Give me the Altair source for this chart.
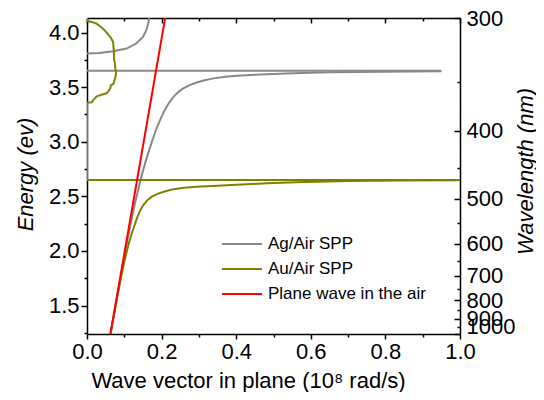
import altair as alt
import pandas as pd

# ---------------- data ----------------
# Ag/Air SPP, lower branch
ag_lo_k = [0.0630, 0.0735, 0.0825, 0.0920, 0.1010, 0.1090, 0.1160, 0.1230, 0.1300, 0.1370,
           0.1430, 0.1500, 0.1570, 0.1650, 0.1730, 0.1820, 0.1910, 0.2000, 0.2090, 0.2180,
           0.2270, 0.2360, 0.2470, 0.2580, 0.2750, 0.2940, 0.3150, 0.3390, 0.3700, 0.4010,
           0.4400, 0.4820, 0.5500, 0.6500, 0.8000, 0.9500]
ag_lo_e = [1.240, 1.445, 1.619, 1.800, 1.967, 2.111, 2.232, 2.348, 2.457, 2.559,
           2.642, 2.733, 2.818, 2.905, 2.990, 3.080, 3.160, 3.230, 3.293, 3.346,
           3.390, 3.426, 3.461, 3.488, 3.518, 3.542, 3.563, 3.580, 3.595, 3.604,
           3.612, 3.618, 3.627, 3.635, 3.641, 3.645]
# Ag/Air SPP, upper branch
ag_up_k = [0.000, 0.034, 0.070, 0.106, 0.132, 0.150, 0.159, 0.164, 0.1665]
ag_up_e = [3.807, 3.812, 3.828, 3.853, 3.899, 3.960, 4.021, 4.083, 4.133]
# Ag/Air SPP, flat line
ag_fl_k = [0.000, 0.950]
ag_fl_e = [3.650, 3.650]

# Au/Air SPP, lower branch
au_lo_k = [0.0630, 0.0735, 0.0830, 0.0920, 0.1000, 0.1070, 0.1130, 0.1200, 0.1250, 0.1290,
           0.1350, 0.1420, 0.1500, 0.1600, 0.1730, 0.1870, 0.2080, 0.2320, 0.2600, 0.2940,
           0.3500, 0.4010, 0.4820, 0.5600, 0.7000, 0.8500, 1.0000]
au_lo_e = [1.240, 1.440, 1.610, 1.770, 1.900, 2.000, 2.080, 2.160, 2.210, 2.250,
           2.310, 2.367, 2.415, 2.459, 2.495, 2.520, 2.545, 2.566, 2.578, 2.587,
           2.598, 2.606, 2.619, 2.630, 2.640, 2.645, 2.648]
# Au/Air SPP, flat line
au_fl_k = [0.000, 1.000]
au_fl_e = [2.650, 2.650]
# Au/Air SPP, branch near k = 0
au_up_k = [0.000, 0.000, 0.013, 0.017, 0.026, 0.039, 0.053, 0.062, 0.064, 0.071, 0.075, 0.078,
           0.076, 0.075, 0.073, 0.072, 0.070, 0.065, 0.056, 0.047, 0.039, 0.025, 0.012, 0.000, 0.000]
au_up_e = [2.650, 3.357, 3.362, 3.384, 3.415, 3.430, 3.445, 3.485, 3.516, 3.531, 3.577, 3.623,
           3.669, 3.715, 3.745, 3.822, 3.914, 3.945, 3.985, 4.021, 4.046, 4.083, 4.097, 4.107, 4.133]

# Plane wave in the air
pw_k = [0.0628, 0.2095]
pw_e = [1.240, 4.133]

series_names = ["Ag/Air SPP", "Au/Air SPP", "Plane wave in the air"]
series_colors = ["#888888", "#808000", "#ff0000"]

x_major = [0.0, 0.2, 0.4, 0.6, 0.8, 1.0]
x_minor = [0.1, 0.3, 0.5, 0.7, 0.9]
y_major = [1.5, 2.0, 2.5, 3.0, 3.5, 4.0]
y_minor = [1.25, 1.75, 2.25, 2.75, 3.25, 3.75]
wl_major = [300, 400, 500, 600, 700, 800, 900, 1000]
wl_minor = [350, 450, 550, 650, 750, 850, 950]
HC = 1239.84  # eV*nm, energy <-> wavelength

# ---------------- table ----------------
rows = []
def add(series, seg, ks, es):
    for i, (k, e) in enumerate(zip(ks, es)):
        rows.append({"k": k, "E": e, "series": series, "seg": seg, "ord": i})

add(series_names[0], "ag_lo", ag_lo_k, ag_lo_e)
add(series_names[0], "ag_up", ag_up_k, ag_up_e)
add(series_names[0], "ag_fl", ag_fl_k, ag_fl_e)
add(series_names[1], "au_lo", au_lo_k, au_lo_e)
add(series_names[1], "au_fl", au_fl_k, au_fl_e)
add(series_names[1], "au_up", au_up_k, au_up_e)
add(series_names[2], "pw", pw_k, pw_e)
df = pd.DataFrame(rows)
dummy = pd.DataFrame({"k": [0.5], "E": [2.5]})

W, H = 373, 316
X_DOM = [0.0, 1.0]
Y_DOM = [HC / 1000, HC / 300]
FONT = "Liberation Sans"

def xs():
    return alt.Scale(domain=X_DOM, nice=False, zero=False)

def ys():
    return alt.Scale(domain=Y_DOM, nice=False, zero=False)

common = dict(domainColor="black", tickColor="black", labelColor="black", titleColor="black",
              labelFont=FONT, titleFont=FONT, grid=False, domainWidth=1.5, tickWidth=1.5)

lines = alt.Chart(df).mark_line(strokeWidth=2, clip=True).encode(
    x=alt.X("k:Q", scale=xs(), axis=alt.Axis(
        values=x_major, format=".1f", tickSize=5, labelFontSize=22, labelPadding=2,
        labelFlush=False, labelOverlap=False,
        title="Wave vector in plane (10⁸ rad/s)", titleFontSize=22, titleFontWeight="normal",
        titleX=161, titleY=53, titleBaseline="alphabetic", **common)),
    y=alt.Y("E:Q", scale=ys(), axis=alt.Axis(
        values=y_major, format=".1f", tickSize=6, labelFontSize=22, labelPadding=2,
        labelFlush=False, labelOverlap=False,
        title="Energy (ev)", titleFontSize=22, titleFontWeight="normal", titleFontStyle="italic",
        titleX=-62, titleY=156, titleBaseline="middle", titleAngle=270, **common)),
    color=alt.Color("series:N", scale=alt.Scale(domain=series_names, range=series_colors),
                    legend=alt.Legend(orient="none", legendX=146.5, legendY=217.5, title=None,
                                      symbolType="M-3,0H3", symbolSize=178, symbolStrokeWidth=2,
                                      labelFont=FONT, labelFontSize=17, labelColor="black",
                                      labelOffset=17.5, padding=0, rowPadding=7)),
    detail="seg:N",
    order="ord:Q",
)

def ghost(x_axis, y_axis):
    enc = {}
    enc["x"] = alt.X("k:Q", scale=xs(), axis=x_axis)
    enc["y"] = alt.Y("E:Q", scale=ys(), axis=y_axis)
    return alt.Chart(dummy).mark_point(opacity=0).encode(**enc)

no_lab = dict(labels=False, title=None, grid=False, tickColor="black", tickWidth=1.5)

# bottom minor ticks + left minor ticks
l2 = ghost(alt.Axis(orient="bottom", values=x_minor, tickSize=3, domain=False, **no_lab),
           alt.Axis(orient="left", values=y_minor, tickSize=3, domain=False, **no_lab))
# top border with inward major ticks + right wavelength labels
l3 = ghost(alt.Axis(orient="bottom", offset=-H, values=x_major, tickSize=5, domain=True,
                    domainColor="black", domainWidth=1.5, **no_lab),
           alt.Axis(orient="right", values=[HC / w for w in wl_major], ticks=False, tickSize=0,
                    labelExpr="format(1239.84 / datum.value, '.0f')", labelFont=FONT,
                    labelFontSize=22, labelColor="black", labelPadding=6, labelFlush=False,
                    labelOverlap=False, domain=True, domainColor="black", domainWidth=1.5,
                    labelOffset={"condition": {"test": "datum.value < 1.25", "value": -8}, "value": 0},
                    title="Wavelength (nm)", titleFont=FONT, titleFontSize=22,
                    titleFontWeight="normal", titleFontStyle="italic", titleColor="black",
                    titleAngle=270, titleX=65, titleY=153, titleBaseline="middle", grid=False))
# top minor inward ticks + right major inward ticks
l4 = ghost(alt.Axis(orient="bottom", offset=-H, values=x_minor, tickSize=3, domain=False, **no_lab),
           alt.Axis(orient="left", offset=-W, values=[HC / w for w in wl_major], tickSize=6,
                    domain=False, **no_lab))
# right minor inward ticks
l5 = ghost(None, alt.Axis(orient="left", offset=-W, values=[HC / w for w in wl_minor], tickSize=3,
                          domain=False, **no_lab))

chart = alt.layer(lines, l2, l3, l4, l5).resolve_scale(
    x="independent", y="independent"
).resolve_axis(x="independent", y="independent").properties(
    width=W, height=H,
    padding={"left": 79, "top": 10, "right": 76, "bottom": 58},
    autosize=alt.AutoSizeParams(type="none"),
).configure_view(strokeWidth=0)

chart.save("out.html", embed_options={"renderer": "svg", "actions": False})
